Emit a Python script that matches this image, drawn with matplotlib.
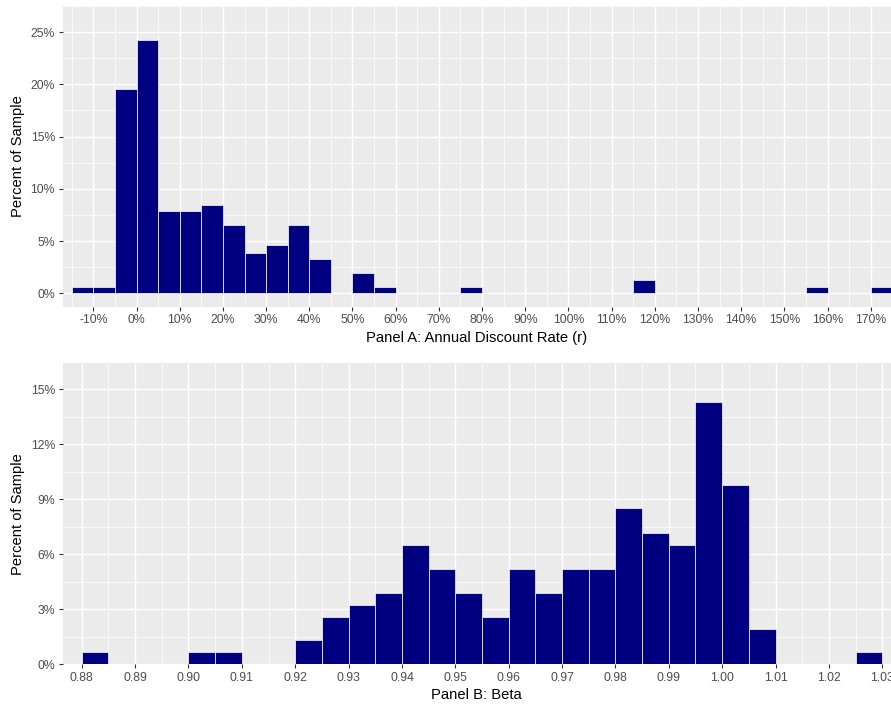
import matplotlib
matplotlib.use("Agg")
import matplotlib.pyplot as plt
import numpy as np

plt.rcParams['font.family'] = ['Liberation Sans', 'DejaVu Sans']

# ---- Panel A data: annual discount rate (percent), bin width 5 ----
rate_bin_left = [-15, -10, -5, 0, 5, 10, 15, 20, 25, 30, 35, 40, 50, 55, 75, 115, 155, 170]
rate_pct = [0.65, 0.65, 19.6, 24.2, 7.85, 7.85, 8.5, 6.5, 3.9, 4.6, 6.5, 3.3, 1.95, 0.65, 0.65, 1.3, 0.65, 0.65]
rate_bin_width = 5
rate_ticks = list(range(-10, 171, 10))
rate_tick_labels = [f"{t}%" for t in rate_ticks]
rate_y_ticks = [0, 5, 10, 15, 20, 25]

# ---- Panel B data: beta, bin width 0.005 ----
beta_bin_left = [0.880, 0.900, 0.905, 0.920, 0.925, 0.930, 0.935, 0.940, 0.945, 0.950,
                 0.955, 0.960, 0.965, 0.970, 0.975, 0.980, 0.985, 0.990, 0.995, 1.000,
                 1.005, 1.025]
beta_pct = [0.65, 0.65, 0.65, 1.3, 2.6, 3.25, 3.9, 6.5, 5.2, 3.9,
            2.6, 5.2, 3.9, 5.2, 5.2, 8.5, 7.15, 6.5, 14.3, 9.8,
            1.95, 0.65]
beta_bin_width = 0.005
beta_ticks = [0.88, 0.89, 0.90, 0.91, 0.92, 0.93, 0.94, 0.95, 0.96, 0.97, 0.98, 0.99, 1.00, 1.01, 1.02, 1.03]
beta_tick_labels = [f"{t:.2f}" for t in beta_ticks]
beta_y_ticks = [0, 3, 6, 9, 12, 15]

W, H = 891, 707
fig = plt.figure(figsize=(W / 100, H / 100), dpi=100)

PANEL_BG = "#EBEBEB"
BAR = "#000080"
TICK_TXT = "#4D4D4D"
TICK_COL = "#333333"


def style(ax, xmajor, xminor, ymajor, yminor, xlabels, ylabels, xlabel, xlim, ylim):
    ax.set_facecolor(PANEL_BG)
    for s in ax.spines.values():
        s.set_visible(False)
    ax.set_xticks(xmajor)
    ax.set_xticks(xminor, minor=True)
    ax.set_yticks(ymajor)
    ax.set_yticks(yminor, minor=True)
    ax.set_xticklabels(xlabels)
    ax.set_yticklabels(ylabels)
    ax.set_xlim(*xlim)
    ax.set_ylim(*ylim)
    ax.grid(which='major', color='white', linewidth=1.05)
    ax.grid(which='minor', color='white', linewidth=0.5)
    ax.set_axisbelow(True)
    ax.tick_params(which='major', length=3, width=0.8, color=TICK_COL,
                   labelcolor=TICK_TXT, labelsize=8.8, pad=2.5)
    ax.tick_params(which='minor', length=0)
    ax.set_xlabel(xlabel, fontsize=10.6, color='black', labelpad=3)
    ax.set_ylabel("Percent of Sample", fontsize=10.6, color='black', labelpad=4)


# Panel A
axA = fig.add_axes([62.7 / W, 1 - 306.7 / H, 1 - 62.7 / W, (306.7 - 6) / H])
axA.bar(rate_bin_left, rate_pct, width=rate_bin_width, align='edge',
        color=BAR, edgecolor='white', linewidth=0.5)
style(axA, rate_ticks, np.arange(-15, 176, 10), rate_y_ticks,
      [2.5, 7.5, 12.5, 17.5, 22.5, 27.5], rate_tick_labels,
      [f"{t}%" for t in rate_y_ticks], "Panel A: Annual Discount Rate (r)",
      (-17.1, 174.7), (-1.28, 27.5))

# Panel B
axB = fig.add_axes([62.7 / W, 1 - 664.3 / H, 1 - 62.7 / W, (664.3 - 363.3) / H])
axB.bar(beta_bin_left, beta_pct, width=beta_bin_width, align='edge',
        color=BAR, edgecolor='white', linewidth=0.5)
style(axB, beta_ticks, np.arange(0.875, 1.036, 0.01), beta_y_ticks,
      [1.5, 4.5, 7.5, 10.5, 13.5], beta_tick_labels,
      [f"{t}%" for t in beta_y_ticks], "Panel B: Beta",
      (0.87644, 1.03163), (0, 16.42))

fig.savefig("out.png", dpi=100)
